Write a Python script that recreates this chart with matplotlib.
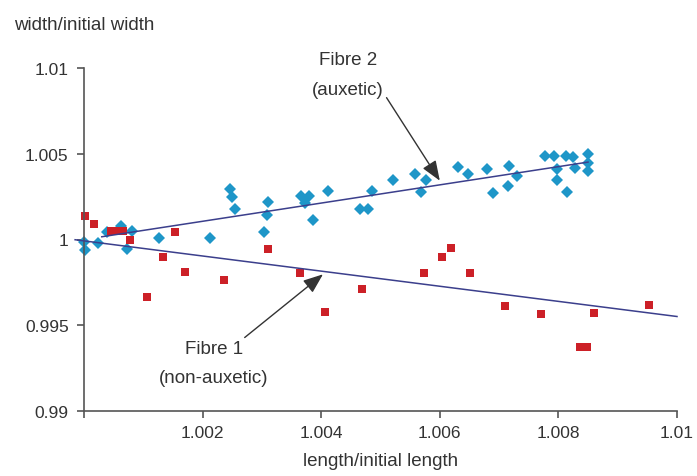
import matplotlib
matplotlib.use("Agg")
import matplotlib.pyplot as plt
from matplotlib import font_manager
import numpy as np

# Fibre 2 (auxetic) - blue diamonds
fibre2_x = [1.0000, 1.00002, 1.00024, 1.00038, 1.00062, 1.00081, 1.00073, 1.00126,
            1.00213, 1.00246, 1.00250, 1.00255, 1.00310, 1.00308, 1.00304, 1.00366,
            1.00379, 1.00373, 1.00386, 1.00412, 1.00465, 1.00479, 1.00485, 1.00521,
            1.00559, 1.00576, 1.00569, 1.00631, 1.00648, 1.00679, 1.00690, 1.00716,
            1.00715, 1.00730, 1.00778, 1.00792, 1.00813, 1.00825, 1.00850, 1.00797,
            1.00828, 1.00850, 1.00850, 1.00797, 1.00814]
fibre2_y = [0.99988, 0.99936, 0.99977, 1.00044, 1.00076, 1.00047, 0.99942, 1.00010,
            1.00010, 1.00297, 1.00247, 1.00180, 1.00221, 1.00145, 1.00044, 1.00256,
            1.00252, 1.00213, 1.00113, 1.00281, 1.00178, 1.00178, 1.00281, 1.00349,
            1.00384, 1.00346, 1.00275, 1.00424, 1.00381, 1.00413, 1.00273, 1.00428,
            1.00314, 1.00368, 1.00488, 1.00488, 1.00487, 1.00483, 1.00497, 1.00409,
            1.00417, 1.00444, 1.00397, 1.00349, 1.00279]

# Fibre 1 (non-auxetic) - red squares
fibre1_x = [1.00002, 1.00017, 1.00046, 1.00057, 1.00066, 1.00077, 1.00153, 1.00133,
            1.00170, 1.00106, 1.00236, 1.00311, 1.00364, 1.00407, 1.00469, 1.00573,
            1.00603, 1.00619, 1.00651, 1.00710, 1.00771, 1.00860, 1.00836, 1.00848,
            1.00953]
fibre1_y = [1.00135, 1.00093, 1.00048, 1.00048, 1.00048, 1.00000, 1.00042, 0.99899,
            0.99808, 0.99663, 0.99765, 0.99946, 0.99802, 0.99577, 0.99713, 0.99806,
            0.99897, 0.99952, 0.99806, 0.99612, 0.99568, 0.99570, 0.99376, 0.99376,
            0.99616]

# trend lines: slope, intercept at x=1, x range
fit2_slope, fit2_at1, fit2_range = 0.531, 1.0000, (1.0003, 1.0085)
fit1_slope, fit1_at1, fit1_range = -0.441, 0.99992, (0.99985, 1.0100)

x_ticks = [1.0, 1.002, 1.004, 1.006, 1.008, 1.01]
x_tick_labels = ["", "1.002", "1.004", "1.006", "1.008", "1.01"]
y_ticks = [0.99, 0.995, 1.0, 1.005, 1.01]
y_tick_labels = ["0.99", "0.995", "1", "1.005", "1.01"]

BLUE = "#1E96C8"
RED = "#CC2027"
LINE = "#3B3F8C"
TXT = "#333333"
AXC = "#555555"

names = {f.name for f in font_manager.fontManager.ttflist}
if "Liberation Sans Narrow" in names:
    FAMILY, FS, FS_TXT = "Liberation Sans Narrow", 14.5, 15.5
else:
    FAMILY, FS, FS_TXT = "Liberation Sans", 12.5, 13.5
plt.rcParams["font.family"] = [FAMILY, "DejaVu Sans"]

fig = plt.figure(figsize=(6.97, 4.77), dpi=100)
ax = fig.add_axes([84 / 697, 1 - 412 / 477, (677 - 84) / 697, (412 - 69) / 477])

for slope, at1, (xa, xb) in [(fit2_slope, fit2_at1, fit2_range),
                             (fit1_slope, fit1_at1, fit1_range)]:
    xs = np.array([xa, xb])
    ax.plot(xs, at1 + slope * (xs - 1.0), color=LINE, lw=1.1, zorder=3, clip_on=False)

ax.plot(fibre2_x, fibre2_y, ls="none", marker="D", ms=6.4, mew=0,
        color=BLUE, zorder=2, clip_on=False)
ax.plot(fibre1_x, fibre1_y, ls="none", marker="s", ms=6.3, mew=0,
        color=RED, zorder=2, clip_on=False)

ax.set_xlim(1.0, 1.01)
ax.set_ylim(0.99, 1.01)
ax.set_xticks(x_ticks)
ax.set_xticklabels(x_tick_labels)
ax.set_yticks(y_ticks)
ax.set_yticklabels(y_tick_labels)

for s in ["top", "right"]:
    ax.spines[s].set_visible(False)
for s in ["left", "bottom"]:
    ax.spines[s].set_color(AXC)
    ax.spines[s].set_linewidth(1.2)
ax.tick_params(axis="both", direction="out", length=5, width=1.2, color=AXC,
               labelsize=FS, labelcolor=TXT)
ax.tick_params(axis="y", pad=6)
ax.tick_params(axis="x", pad=5)

fig.text(14 / 697, 1 - 26 / 477, "width/initial width", ha="left", va="center",
         fontsize=FS_TXT, color=TXT)
ax.set_xlabel("length/initial length", fontsize=FS_TXT, color=TXT, labelpad=9)

arrow = dict(arrowstyle="-|>,head_length=0.9,head_width=0.35", color="#333333",
             lw=1.0, shrinkA=0, shrinkB=0)
ax.annotate("Fibre 2\n(auxetic)", xy=(1.0060, 1.00343), xytext=(1.00445, 1.00962),
            ha="center", va="center", fontsize=FS_TXT, color=TXT, linespacing=2.0,
            arrowprops=dict(arrow, relpos=(1.0, 0.1)))
ax.annotate("Fibre 1\n(non-auxetic)", xy=(1.00403, 0.99797), xytext=(1.00219, 0.99279),
            ha="center", va="center", fontsize=FS_TXT, color=TXT, linespacing=1.9,
            arrowprops=dict(arrow, relpos=(0.75, 1.0)))

fig.savefig("out.png", dpi=100, facecolor="white")
